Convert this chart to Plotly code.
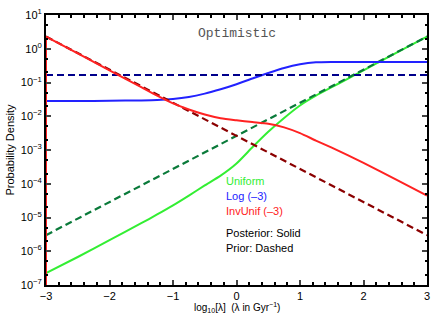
import plotly.graph_objects as go

# x = log10(lambda)
x_post = [-3, -2.5, -2, -1.5, -1.25, -1, -0.75, -0.5, -0.25, 0, 0.25, 0.5, 0.75, 1, 1.25, 1.5, 1.75, 2, 2.5, 3]

# log10 of densities
uni_post_log = [-6.65, -6.17, -5.67, -5.17, -4.91, -4.64, -4.35, -4.05, -3.76, -3.40, -2.92, -2.46, -2.05, -1.68, -1.39, -1.14, -0.89, -0.64, -0.14, 0.36]
log_post_log = [-1.55, -1.55, -1.54, -1.53, -1.52, -1.49, -1.43, -1.33, -1.20, -1.05, -0.88, -0.72, -0.57, -0.46, -0.40, -0.39, -0.39, -0.39, -0.39, -0.39]
inv_post_log = [0.362, -0.138, -0.638, -1.138, -1.39, -1.62, -1.80, -1.95, -2.06, -2.12, -2.17, -2.22, -2.33, -2.50, -2.72, -2.93, -3.15, -3.38, -3.86, -4.35]

x_prior = [-3, 3]
uni_prior = [3.0e-6, 2.3]
log_prior = [0.167, 0.167]
inv_prior = [2.3, 3.0e-6]

# edge of the InvUnif posterior at lambda = 1e-3
inv_edge_x = [-3]
inv_edge_y = [1e-9]

x_ticks = [-3, -2, -1, 0, 1, 2, 3]
x_tick_text = ["\u22123", "\u22122", "\u22121", "0", "1", "2", "3"]
y_exponents = [1, 0, -1, -2, -3, -4, -5, -6, -7]

uni_post = [10 ** v for v in uni_post_log]
log_post = [10 ** v for v in log_post_log]

C_UNI, C_UNI_P = "#33ee33", "#0a7a3a"
C_LOG, C_LOG_P = "#2222ff", "#00008b"
C_INV, C_INV_P = "#ff2222", "#8b0000"
DASH = "7px,4px"
SM = dict(shape="spline", smoothing=0.6)

fig = go.Figure()
fig.add_trace(go.Scatter(x=x_post, y=uni_post, mode="lines", line=dict(color=C_UNI, width=2, **SM)))
fig.add_trace(go.Scatter(x=x_prior, y=uni_prior, mode="lines", line=dict(color=C_UNI_P, width=2.2, dash=DASH)))
fig.add_trace(go.Scatter(x=x_post, y=log_post, mode="lines", line=dict(color=C_LOG, width=2, **SM)))
fig.add_trace(go.Scatter(x=x_prior, y=log_prior, mode="lines", line=dict(color=C_LOG_P, width=2.2, dash=DASH)))
fig.add_trace(go.Scatter(x=x_prior, y=inv_prior, mode="lines", line=dict(color=C_INV_P, width=2.2, dash=DASH)))
fig.add_trace(go.Scatter(x=inv_edge_x + inv_edge_x, y=[inv_edge_y[0], 10 ** inv_post_log[0]], mode="lines",
                         line=dict(color=C_INV, width=2)))
fig.add_trace(go.Scatter(x=x_post, y=[10 ** v for v in inv_post_log], mode="lines", line=dict(color=C_INV, width=2, **SM)))

font = "Liberation Sans, Arial, sans-serif"
legend_items = [("Uniform", C_UNI), ("Log (\u20133)", C_LOG), ("InvUnif (\u20133)", C_INV),
                ("Posterior: Solid", "black"), ("Prior: Dashed", "black")]
legend_y = [182.7, 197.7, 212.7, 235, 250]
for (txt, col), py in zip(legend_items, legend_y):
    fig.add_annotation(x=-0.2, y=1 - (py - 15) / 34, xref="x", yref="y", text=txt,
                       showarrow=False, xanchor="left", yanchor="middle",
                       font=dict(family=font, size=11, color=col))

fig.add_annotation(x=0.0, y=1 - (33.5 - 15) / 34, xref="x", yref="y", text="Optimistic",
                   showarrow=False, xanchor="center", yanchor="middle",
                   font=dict(family="Liberation Mono, Courier New, monospace", size=13, color="#555555"))

fig.add_annotation(x=0.5, y=-0.05, xref="paper", yref="paper",
                   text="log<sub>10</sub>[\u03bb]  (\u03bb in Gyr<sup>\u22121</sup>)",
                   showarrow=False, xanchor="center", yanchor="top",
                   font=dict(family=font, size=10, color="black"))

fig.update_layout(
    width=436, height=319,
    margin=dict(l=46, r=9, t=15, b=34, autoexpand=False),
    paper_bgcolor="white", plot_bgcolor="white",
    showlegend=False,
    font=dict(family=font, size=11, color="black"),
)
fig.update_xaxes(range=[-3, 3], tickvals=x_ticks, ticktext=x_tick_text, ticks="inside", ticklen=5, tickwidth=1.5,
                 showline=True, linewidth=2, linecolor="black", mirror="ticks", automargin=False,
                 showgrid=False, zeroline=False, tickfont=dict(size=11),
                 minor=dict(ticks="inside", ticklen=3, tickvals=[v / 5 for v in range(-15, 16)], tickcolor="black", showgrid=False))
fig.update_yaxes(type="log", range=[-7, 1], tickvals=[10 ** e for e in y_exponents],
                 ticktext=["10<sup>%s</sup>" % (str(e).replace("-", "\u2212")) for e in y_exponents],
                 ticks="inside", ticklen=5, tickwidth=1.5, automargin=False,
                 showline=True, linewidth=2, linecolor="black", mirror="ticks",
                 showgrid=False, zeroline=False, tickfont=dict(size=11),
                 minor=dict(ticks="inside", ticklen=2, tickcolor="black", showgrid=False),
                 title=dict(text="Probability Density", font=dict(size=11), standoff=4))

fig.write_html("out.html", config={"displayModeBar": False},
               post_script="document.body.style.margin='0';")
